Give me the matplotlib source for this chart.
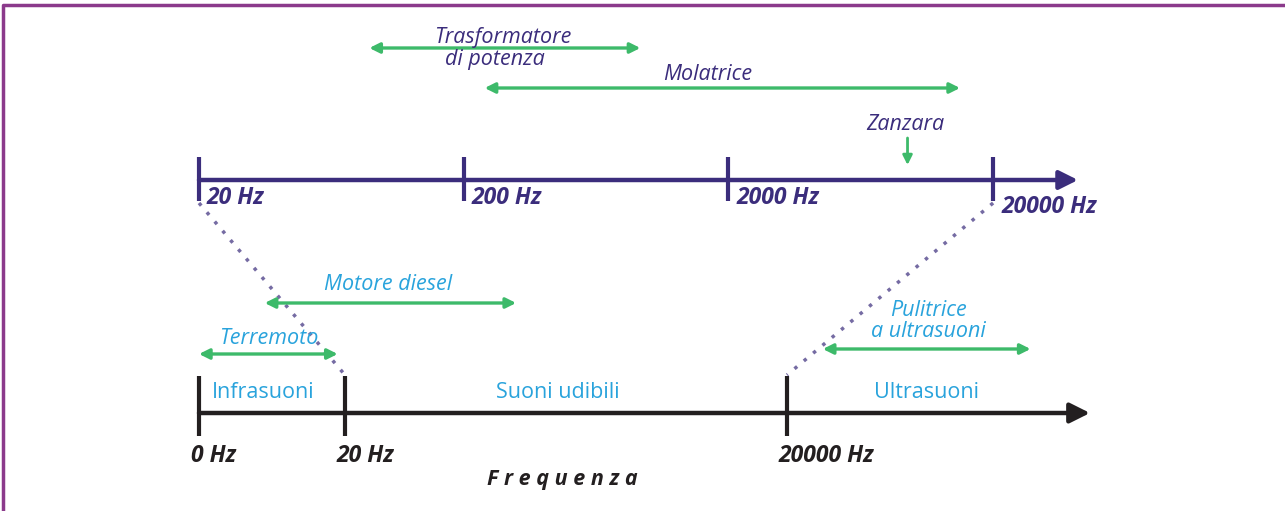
import numpy as np
import matplotlib
matplotlib.use("Agg")
import matplotlib.pyplot as plt

plt.rcParams['font.family'] = ['Open Sans', 'DejaVu Sans']

# top scale (log), frequencies in Hz
top_ticks = [20, 200, 2000, 20000]
top_tick_labels = ["20 Hz", "200 Hz", "2000 Hz", "20000 Hz"]
top_ranges = ["Trasformatore\ndi potenza", "Molatrice"]
top_range_lo = [88, 240]
top_range_hi = [930, 15000]
zanzara_hz = 9500

# bottom scale, frequencies in Hz
bot_ticks = [0, 20, 20000]
bot_tick_labels = ["0 Hz", "20 Hz", "20000 Hz"]
bands = ["Infrasuoni", "Suoni udibili", "Ultrasuoni"]
bot_ranges = ["Motore diesel", "Terremoto", "Pulitrice\na ultrasuoni"]
bot_range_lo = [9, 0, 35000]
bot_range_hi = [290, 19, 900000]

PURPLE = "#3b2d7c"
GREEN = "#3dba6a"
BLUE = "#29a3dc"
BLACK = "#231f20"


def top_x(f):
    return 199 + (np.log10(f) - np.log10(20)) * 264.7


def bot_x(f):
    f = np.asarray(f, dtype=float)
    lin = 199 + f / 20 * 146
    lg = 345 + (np.log10(np.maximum(f, 20)) - np.log10(20)) / 3 * 442
    return np.where(f <= 20, lin, lg)


fig = plt.figure(figsize=(12.85, 5.11), dpi=100)
ax = fig.add_axes([0, 0, 1, 1])
ax.set_xlim(0, 1285)
ax.set_ylim(511, 0)
ax.axis("off")

# frame (left and top only)
ax.plot([3, 3, 1285], [511, 5, 5], color="#8b3a8b", lw=2.5, solid_capstyle="butt")

# ---- top axis ----
ty = 180
tx = top_x(np.array(top_ticks))
ax.annotate("", xy=(1078, ty), xytext=(tx[0], ty),
            arrowprops=dict(arrowstyle="-|>", color=PURPLE, lw=3.2, mutation_scale=28,
                            shrinkA=0, shrinkB=0))
ax.vlines(tx, 157, 201, color=PURPLE, lw=3)
for x, lab, dy in zip(tx, top_tick_labels, [0, 0, 0, 9]):
    ax.text(x + 8, ty + 18 + dy, lab, color=PURPLE, fontsize=16.5, fontweight="bold",
            style="italic", ha="left", va="center")

# top ranges
range_y = [48, 88]
for lab, lo, hi, y in zip(top_ranges, top_range_lo, top_range_hi, range_y):
    ax.annotate("", xy=(top_x(hi), y), xytext=(top_x(lo), y),
                arrowprops=dict(arrowstyle="<|-|>", color=GREEN, lw=2.4, mutation_scale=15,
                                shrinkA=0, shrinkB=0))
ax.text(503, 37, "Trasformatore", color=PURPLE, fontsize=15.5, style="italic",
        ha="center", va="center")
ax.text(495, 60, "di potenza", color=PURPLE, fontsize=15.5, style="italic",
        ha="center", va="center")
ax.text(708, 74, top_ranges[1], color=PURPLE, fontsize=15.5, style="italic",
        ha="center", va="center")

zx = top_x(zanzara_hz)
ax.text(zx - 2, 125, "Zanzara", color=PURPLE, fontsize=15.5, style="italic",
        ha="center", va="center")
ax.annotate("", xy=(zx, 165), xytext=(zx, 138),
            arrowprops=dict(arrowstyle="-|>", color=GREEN, lw=2, mutation_scale=14,
                            shrinkA=0, shrinkB=0))

# ---- bottom axis ----
by = 413
bx = bot_x(bot_ticks)
ax.annotate("", xy=(1090, by), xytext=(bx[0], by),
            arrowprops=dict(arrowstyle="-|>", color=BLACK, lw=3.2, mutation_scale=30,
                            shrinkA=0, shrinkB=0))
ax.vlines(bx, 376, 436, color=BLACK, lw=3)
for x, lab in zip(bx, bot_tick_labels):
    ax.text(x - 8, 456, lab, color=BLACK, fontsize=16.5, fontweight="bold",
            style="italic", ha="left", va="center")
ax.text(487, 480, "F r e q u e n z a", color=BLACK, fontsize=15.5, fontweight="bold",
        style="italic", ha="left", va="center")

band_cx = [263, 558, 926]
for lab, cx in zip(bands, band_cx):
    ax.text(cx, 392, lab, color=BLUE, fontsize=15.5, ha="center", va="center")

# dotted zoom lines
ax.plot([tx[0], bx[1]], [203, 375], color=PURPLE, lw=2.5, ls=(0, (1, 2.5)), alpha=0.7)
ax.plot([tx[-1], bx[2]], [203, 375], color=PURPLE, lw=2.5, ls=(0, (1, 2.5)), alpha=0.7)

# bottom ranges
bot_y = [303, 354, 349]
bot_text = [(388, 285), (269, 338), (928, 321)]
for lab, lo, hi, y, (txp, typ) in zip(bot_ranges, bot_range_lo, bot_range_hi, bot_y, bot_text):
    ax.annotate("", xy=(float(bot_x(hi)), y), xytext=(float(bot_x(lo)), y),
                arrowprops=dict(arrowstyle="<|-|>", color=GREEN, lw=2.4, mutation_scale=15,
                                shrinkA=0, shrinkB=0))
    ax.text(txp, typ, lab, color=BLUE, fontsize=15.5, style="italic",
            ha="center", va="center", linespacing=1.05)

fig.savefig("out.png", dpi=100)
